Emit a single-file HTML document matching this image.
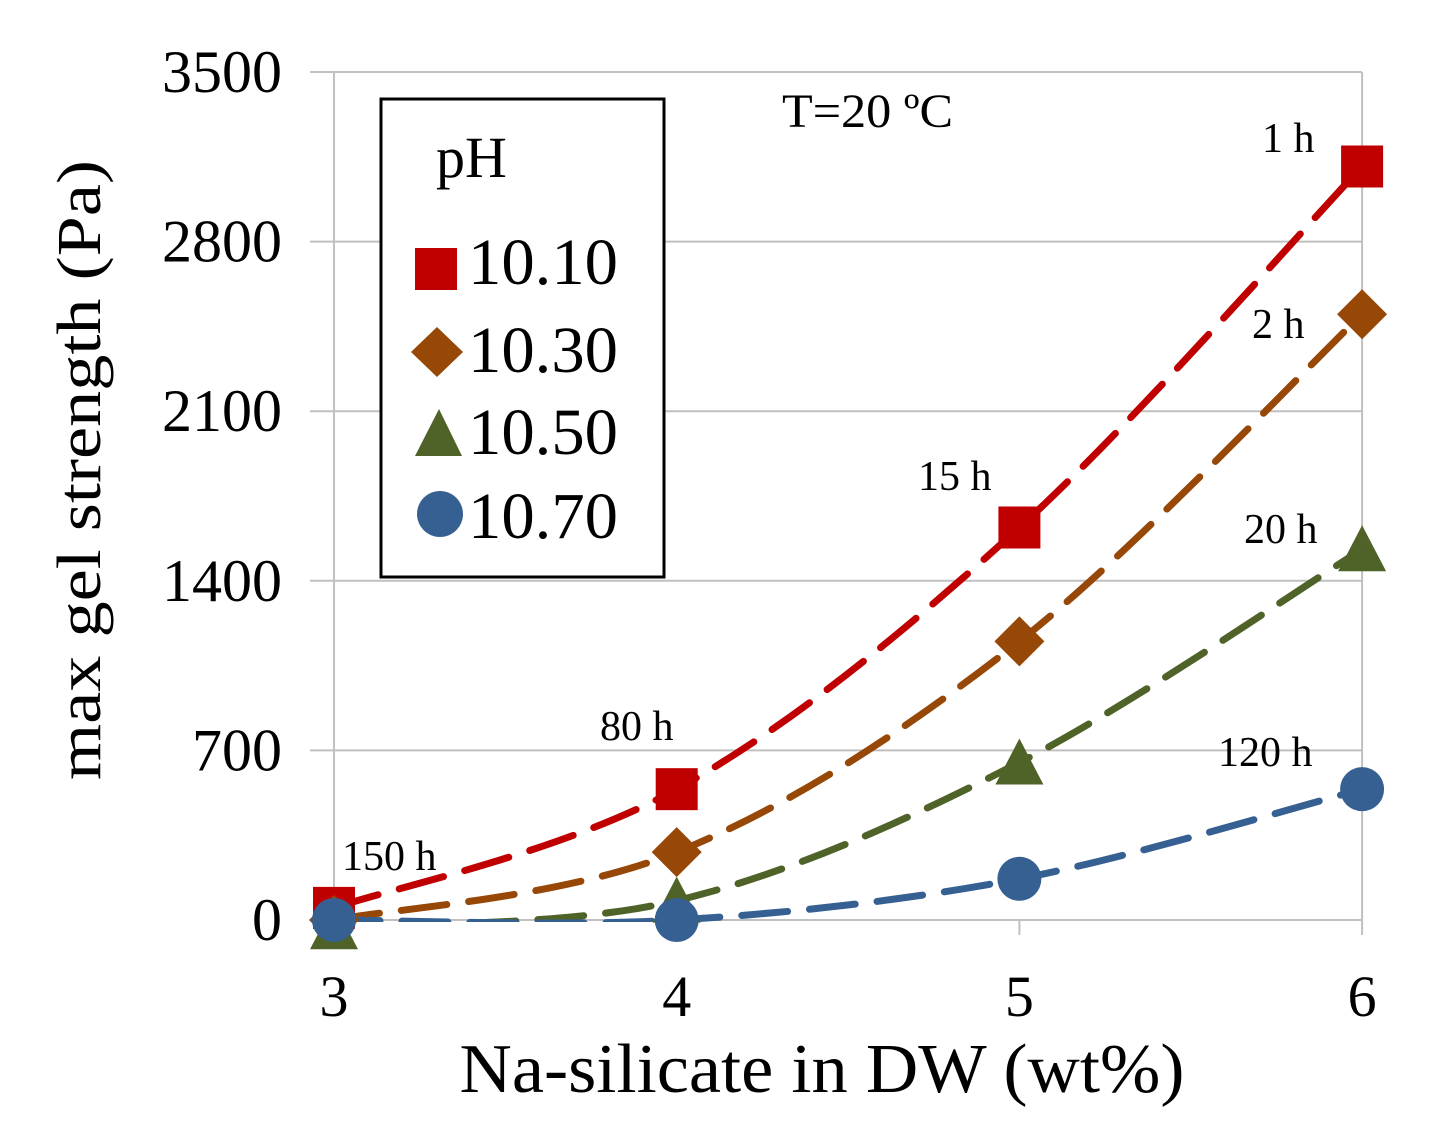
<!DOCTYPE html>
<html><head><meta charset="utf-8"><style>
html,body{margin:0;padding:0;background:#fff}
svg{display:block}
text{font-family:"Liberation Serif",serif;fill:#000}
</style></head><body>
<svg width="1435" height="1125" viewBox="0 0 1435 1125">
<g id="grid"></g>
<g id="curves"></g>
<g id="marks"></g>
<g id="ticks"></g>
<text x="100" y="470" font-size="62" text-anchor="middle" textLength="620" lengthAdjust="spacingAndGlyphs" transform="rotate(-90 100 470)" dy="0">max gel strength (Pa)</text>
<text x="822" y="1092" font-size="70" text-anchor="middle" textLength="725" lengthAdjust="spacingAndGlyphs">Na-silicate in DW (wt%)</text>
<text x="782" y="127" font-size="48" textLength="171" lengthAdjust="spacingAndGlyphs">T=20 ºC</text>
<g font-size="42">
<text x="1262" y="152">1 h</text>
<text x="1252" y="338">2 h</text>
<text x="1244" y="543">20 h</text>
<text x="1218" y="766">120 h</text>
<text x="918" y="490">15 h</text>
<text x="600" y="740">80 h</text>
<text x="342" y="870">150 h</text>
</g>
<g>
<rect x="381" y="99" width="283" height="478" fill="#fff" stroke="#000" stroke-width="3"/>
<text x="436" y="177" font-size="58">pH</text>
<rect x="415" y="248" width="42" height="42" fill="#c00000"/>
<text x="468" y="284" font-size="66" textLength="150" lengthAdjust="spacingAndGlyphs">10.10</text>
<polygon points="437,327 463,352 437,377 411,352" fill="#974706"/>
<text x="468" y="372" font-size="66" textLength="150" lengthAdjust="spacingAndGlyphs">10.30</text>
<polygon points="439,409 462,456 415,456" fill="#4f6228"/>
<text x="468" y="454" font-size="66" textLength="150" lengthAdjust="spacingAndGlyphs">10.50</text>
<circle cx="440" cy="514" r="23" fill="#376092"/>
<text x="468" y="538" font-size="66" textLength="150" lengthAdjust="spacingAndGlyphs">10.70</text>
</g>
</svg>
<script>
const xCats=[3,4,5,6];
const yTicks=[0,700,1400,2100,2800,3500];
const ph1010=[50,540,1620,3110];
const ph1030=[0,280,1150,2500];
const ph1050=[-30,80,650,1530];
const ph1070=[0,0,170,540];
const NS='http://www.w3.org/2000/svg';
function sx(v){return 334+(v-3)*342.7;}
function sy(v){return 920-v*(848/3500);}
function mk(tag,attrs,parent){const e=document.createElementNS(NS,tag);for(const k in attrs)e.setAttribute(k,attrs[k]);parent.appendChild(e);return e;}
const grid=document.getElementById('grid'),ticks=document.getElementById('ticks'),curves=document.getElementById('curves'),marks=document.getElementById('marks');
yTicks.forEach(t=>{
 const l=mk('line',{x1:310,x2:1362,y1:sy(t),y2:sy(t),stroke:'#c0c0c0','stroke-width':2},grid);
 
 
 const tx=mk('text',{x:282,y:sy(t)+20,'font-size':60,'text-anchor':'end'},ticks);
 tx.textContent=t;
 
 
});
xCats.forEach((c,i)=>{
 const edge=(i===0||i===xCats.length-1);
 const l=mk('line',{x1:sx(c),x2:sx(c),y1:edge?72:920,y2:935,stroke:'#c0c0c0','stroke-width':2},grid);
 
 
 const tx=mk('text',{x:sx(c),y:1016,'font-size':58,'text-anchor':'middle'},ticks);
 tx.textContent=c;
 
 
});
const series=[[ph1010,'#c00000','square'],[ph1030,'#974706','diamond'],[ph1050,'#4f6228','triangle'],[ph1070,'#376092','circle']];
function pathFor(vals){
 const p=vals.map((v,i)=>[sx(xCats[i]),sy(v)]);
 let d='M'+p[0][0]+','+p[0][1];
 for(let i=0;i<p.length-1;i++){
  const p0=p[Math.max(0,i-1)],p1=p[i],p2=p[i+1],p3=p[Math.min(p.length-1,i+2)];
  const c1=[p1[0]+(p2[0]-p0[0])/6,p1[1]+(p2[1]-p0[1])/6];
  const c2=[p2[0]-(p3[0]-p1[0])/6,p2[1]-(p3[1]-p1[1])/6];
  d+=' C'+c1[0]+','+c1[1]+' '+c2[0]+','+c2[1]+' '+p2[0]+','+p2[1];
 }
 return d;
}
const clip=mk('clipPath',{id:'pc'},document.querySelector('svg'));
mk('rect',{x:300,y:60,width:1080,height:862},clip);
series.forEach(([vals,col,shape])=>{
 const c=mk('path',{d:pathFor(vals),fill:'none',stroke:col,'stroke-width':7,'stroke-dasharray':'46 22','stroke-linecap':'round','clip-path':'url(#pc)'},curves);
 
 
});
series.forEach(([vals,col,shape])=>{
 vals.forEach((v,i)=>{
  const x=sx(xCats[i]),y=sy(v);let e;
  if(shape==='square')e=mk('rect',{x:x-21,y:y-21,width:42,height:42,fill:col},marks);
  else if(shape==='diamond')e=mk('polygon',{points:`${x},${y-25} ${x+25},${y} ${x},${y+25} ${x-25},${y}`,fill:col},marks);
  else if(shape==='triangle')e=mk('polygon',{points:`${x},${y-24} ${x+24},${y+22} ${x-24},${y+22}`,fill:col},marks);
  else e=mk('circle',{cx:x,cy:y,r:22,fill:col},marks);
  
  
 });
});
</script>
</body></html>
